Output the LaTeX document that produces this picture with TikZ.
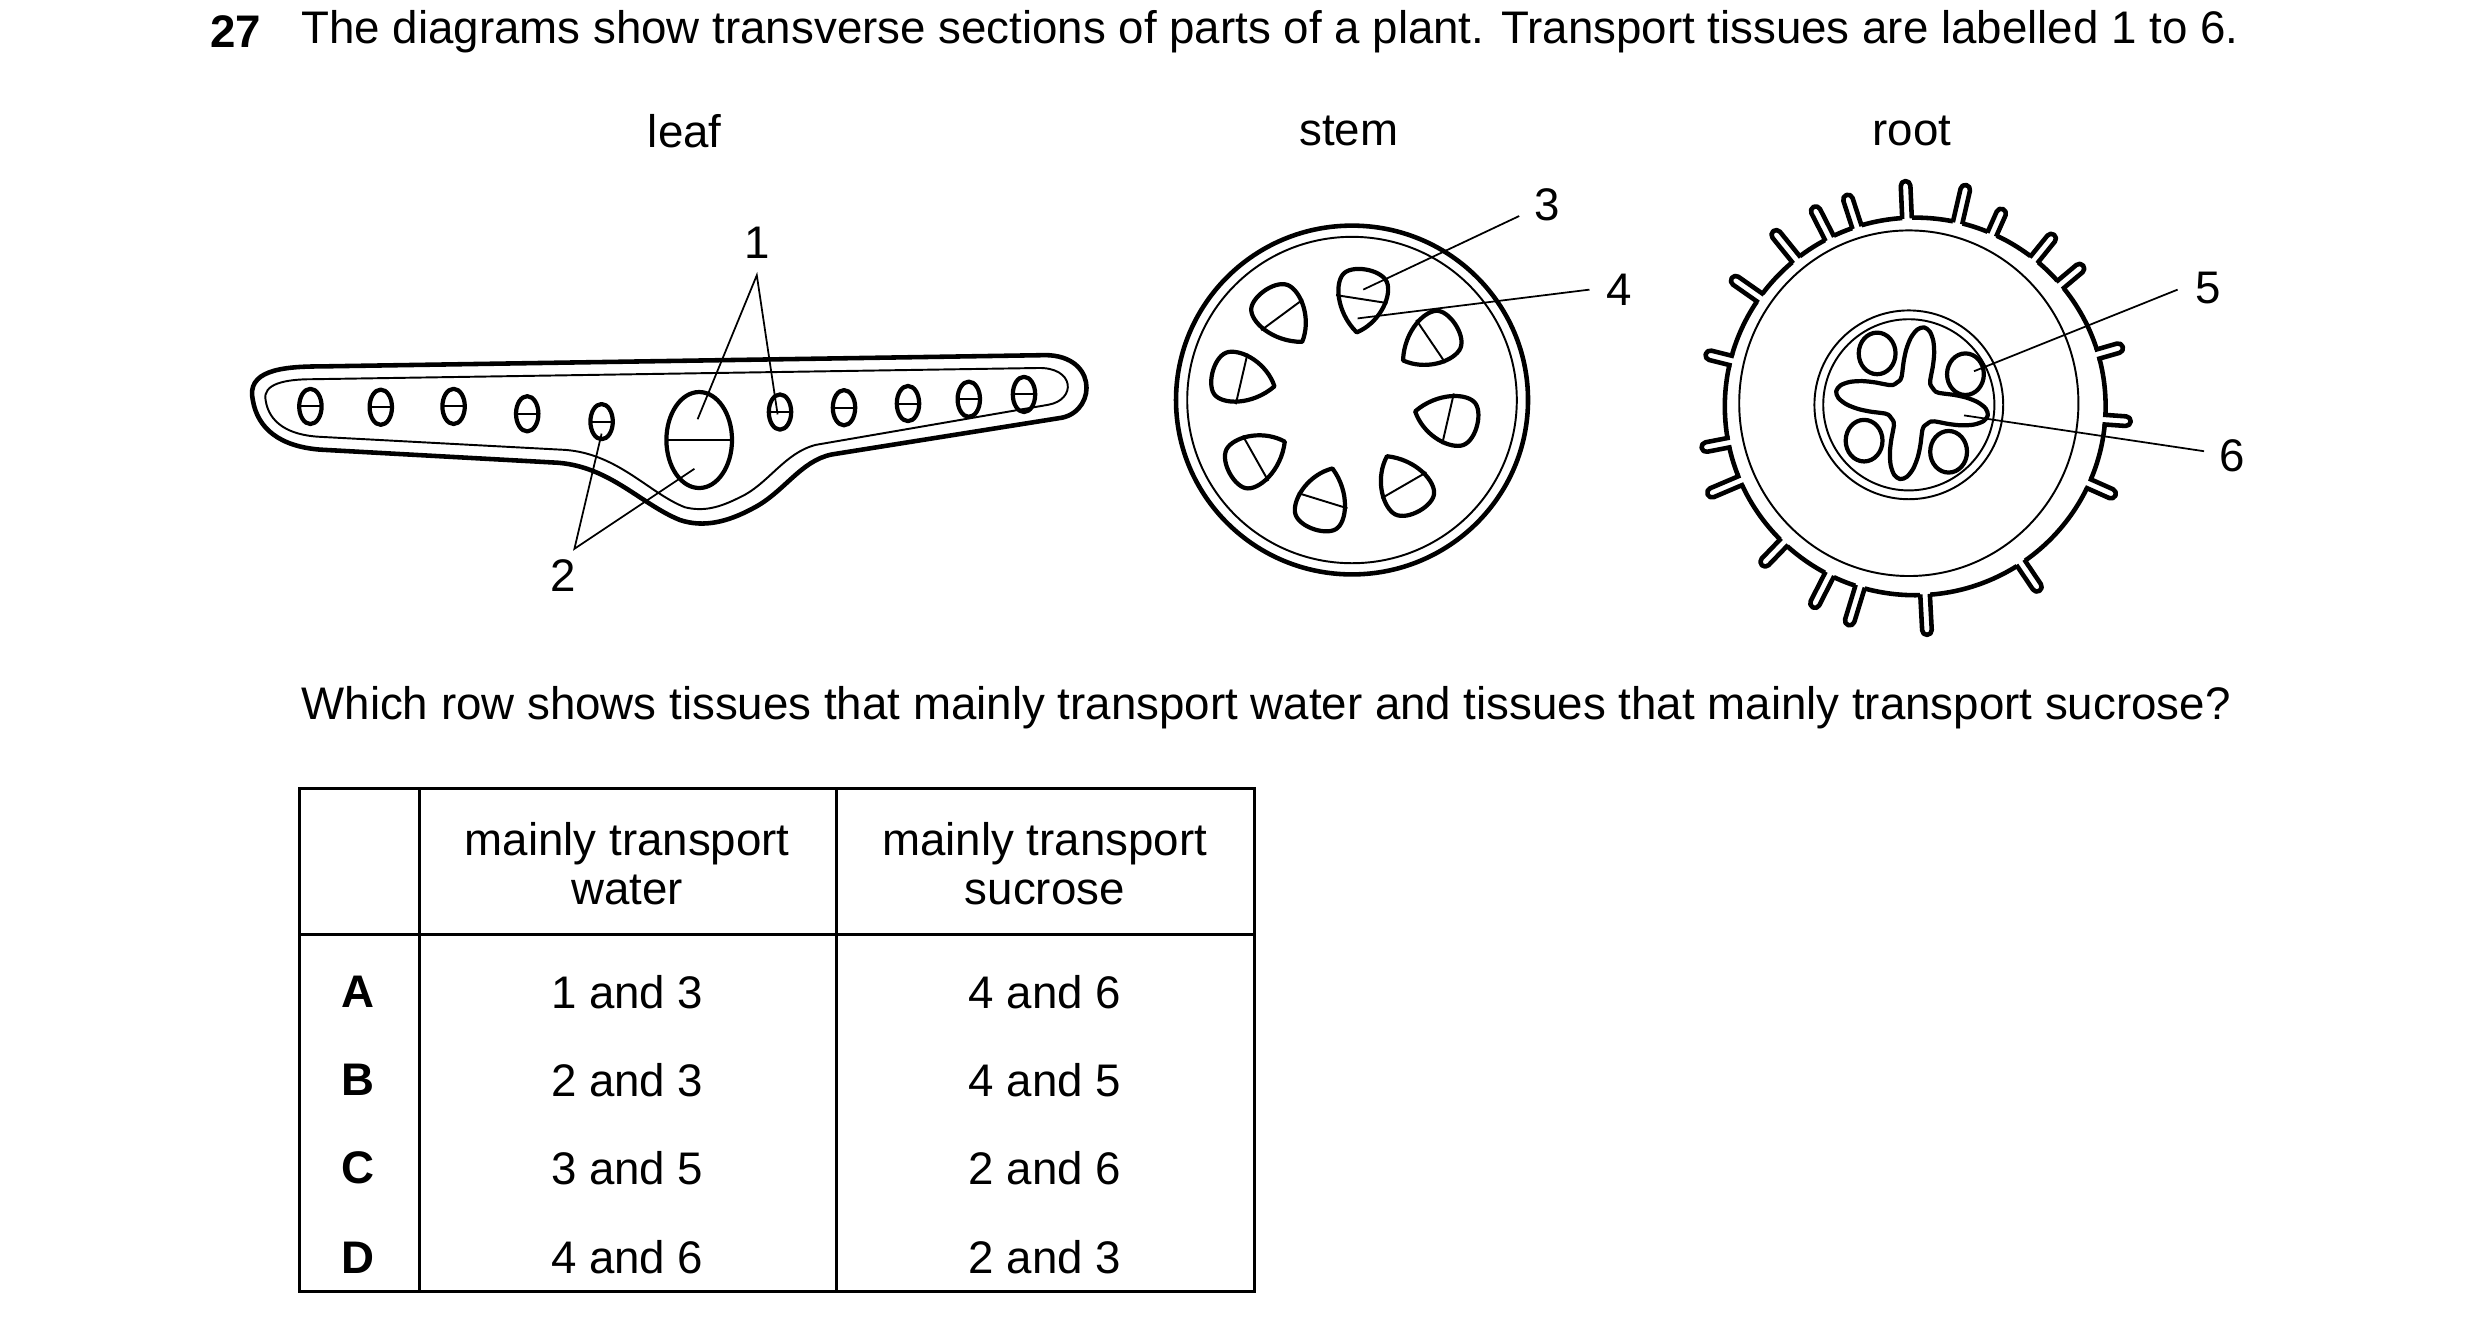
\documentclass[tikz,border=0pt]{standalone}
\usepackage{fontspec}
\setmainfont{Liberation Sans}
\begin{document}
\begin{tikzpicture}[x=0.016cm,y=-0.016cm,
  txt/.style={font=\fontsize{13}{15}\selectfont, inner sep=0pt},
  thickl/.style={line width=1.3pt, line join=round},
  thinl/.style={line width=0.55pt, line join=round},
  bund/.style={line width=1.2pt, line join=round},
  lbl/.style={line width=0.5pt}]
\useasboundingbox (0,0) rectangle (1550,823);
% heading
\node[txt, anchor=west] (q27) at (131,20) {\textbf{27}};
\node[txt, anchor=west] (qtext) at (188,20) {The diagrams show transverse sections of parts of a plant. Transport tissues are labelled 1 to 6.};
\node[txt] (tleaf) at (428,82) {leaf};
\node[txt] (tstem) at (843,82) {stem};
\node[txt] (troot) at (1195,82) {root};
% ---------- leaf ----------
\draw[thickl] (158,250) .. controls (154,232) and (175,229) .. (200,229) -- (650,222)
  .. controls (686,220) and (686,256) .. (664,261) -- (520,284)
  .. controls (500,288) and (490,308) .. (470,318) .. controls (455,326) and (440,330) .. (425,325)
  .. controls (400,315) and (380,290) .. (345,289) -- (200,281)
  .. controls (175,279) and (161,268) .. (158,250) -- cycle;
\draw[thinl] (166,250) .. controls (164,240) and (178,237) .. (195,237) -- (648,230)
  .. controls (672,229) and (673,250) .. (655,253) -- (510,278)
  .. controls (490,283) and (480,303) .. (462,311) .. controls (450,317) and (440,320) .. (428,317)
  .. controls (405,308) and (385,282) .. (350,281) -- (200,273)
  .. controls (180,272) and (168,264) .. (166,250) -- cycle;
\foreach \px/\py [count=\i] in {194/254, 238/254.5, 283.5/254, 329.5/258.6, 376/263.5, 487.5/257.5, 527.5/254.8, 567.5/252.2, 605.5/249.5, 640/246.5}{
  \draw[bund] (\px,\py) ellipse[x radius=7, y radius=11];
  \draw[thinl] (\px-7,\py) -- (\px+7,\py);
  \coordinate (lv\i) at (\px,\py);
}
\draw[bund] (437,275) ellipse[x radius=20.5, y radius=30];
\draw[thinl] (416.5,275) -- (457.5,275);
\coordinate (big) at (437,275);
\node[txt] (n1) at (473,152) {1};
\node[txt] (n2) at (352,360) {2};
\coordinate (p1a) at (436,262);
\coordinate (p1b) at (486,259);
\coordinate (p2a) at (376,271);
\coordinate (p2b) at (434,293);
\draw[lbl] (p1a) -- (473,172) -- (p1b);
\draw[lbl] (p2a) -- (359,343) -- (p2b);
% ---------- stem ----------
\draw[thickl] (845,250) ellipse[x radius=110, y radius=109];
\draw[thinl] (845,250) ellipse[x radius=103, y radius=102];
\foreach \px/\py/\ang in {850/189/83.7, 802/199/129, 892/214/36.7, 778/238/169.5, 903/260.5/-10.4, 787/286/-148, 828/311/-104.6, 877/301/-57.4}{
  \begin{scope}[shift={(\px,\py)}, rotate=\ang, scale=1.45]
    \draw[bund] (-13,0) .. controls (-8,9) and (3,13) .. (9,11) .. controls (15,9) and (16,-4) .. (12,-8) .. controls (8,-12) and (-5,-10) .. (-13,0) -- cycle;
    \draw[thinl] (1,11.8) -- (2,-10.6);
  \end{scope}
}
\node[txt] (n3) at (967,128) {3};
\node[txt] (n4) at (1012,181) {4};
\coordinate (p3) at (852,181);
\coordinate (p4) at (848.5,199);
\draw[lbl] (p3) -- (949.5,135);
\draw[lbl] (p4) -- (993.4,181);
% ---------- root ----------
\draw[thickl] (1197,254) ellipse[x radius=119, y radius=118];
\foreach \ang/\len in {92.5/20, 108/18, 117/19, 129/20, 145/19, 166/14, 191/15, 203/20, 226/17, 243/20, 253/22, 273/22, 304/18, 336/16, 356/14, 16/14, 40/16, 51/17, 66/14, 77/21}{
  \begin{scope}[shift={(1197,254)}, rotate=\ang]
    \fill[white] (115,-3) rectangle (121,3);
    \draw[thickl] (117.5,-3) -- (118+\len,-3) arc[start angle=-90, end angle=90, radius=3] -- (117.5,3);
  \end{scope}
}
\draw[thinl] (1193,252) ellipse[x radius=106, y radius=108];
\draw[thinl] (1193,253) circle[radius=59];
\draw[thinl] (1193,253) circle[radius=53.5];
\begin{scope}[shift={(1195,252)}]
  \draw[bund] plot[smooth cycle, samples=72, domain=0:355] (\x+9: {16+32*((1+cos(4*\x))/2)^2});
  \foreach \a in {-125,-28.5,142,53}{
    \draw[bund] (\a:38) ellipse[x radius=11.5, y radius=13];
  }
\end{scope}
\node[txt] (n5) at (1380,180) {5};
\node[txt] (n6) at (1395,285) {6};
\coordinate (p5) at (1233.75,232);
\coordinate (p6) at (1227.5,259.6);
\draw[lbl] (p5) -- (1361,181);
\draw[lbl] (p6) -- (1377.5,282);
% ---------- question ----------
\node[txt, anchor=west] (q2) at (188,442) {Which row shows tissues that mainly transport water and tissues that mainly transport sucrose?};
% ---------- table ----------
\draw[line width=0.8pt] (187,493) rectangle (784,807);
\draw[line width=0.8pt] (262,493) -- (262,807);
\draw[line width=0.8pt] (523,493) -- (523,807);
\draw[line width=0.8pt] (187,584) -- (784,584);
\node[txt, align=center] (h1) at (392,540) {mainly transport\\[-1pt]water};
\node[txt, align=center] (h2) at (653,540) {mainly transport\\[-1pt]sucrose};
\foreach \L/\a/\b/\y in {A/1 and 3/4 and 6/620, B/2 and 3/4 and 5/675, C/3 and 5/2 and 6/730, D/4 and 6/2 and 3/786}{
  \node[txt] at (224,\y) {\textbf{\L}};
  \node[txt] at (392,\y) {\a};
  \node[txt] at (653,\y) {\b};
}
\end{tikzpicture}
\end{document}
